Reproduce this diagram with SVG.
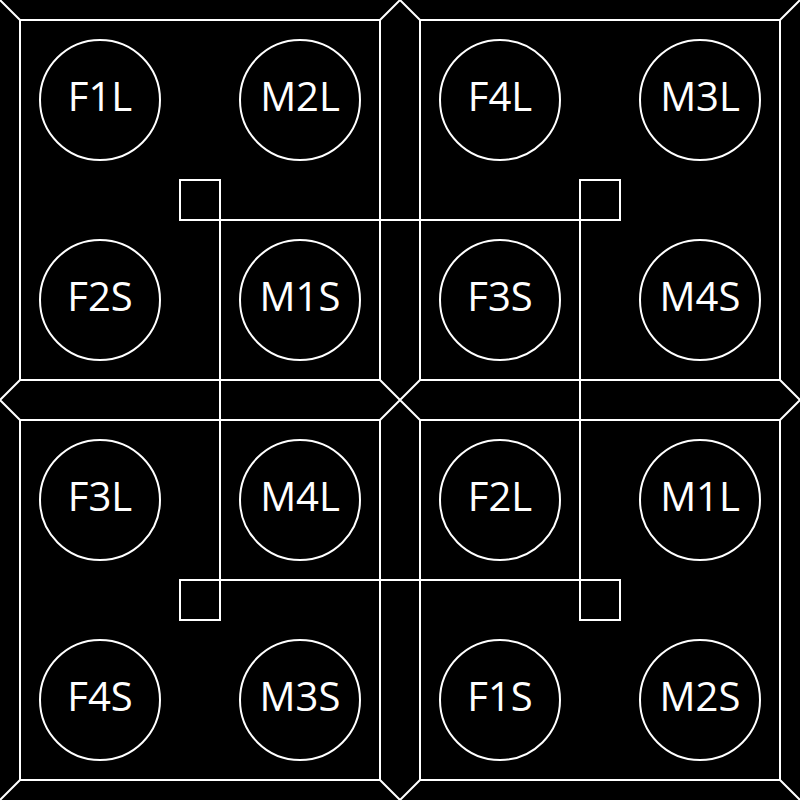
<svg xmlns="http://www.w3.org/2000/svg" width="800" height="800" viewBox="0 0 800 800">
<style>
.l{stroke:#fff;stroke-width:2;fill:none}
.c{stroke:#fff;stroke-width:2;fill:#000}
.t{fill:#fff;font-family:"Open Sans","Noto Sans",sans-serif;font-size:40px;text-anchor:middle}
</style>
<rect width="800" height="800" fill="#000"/>
<g id="frame" class="l">
<rect x="20" y="20" width="360" height="360"/>
<rect x="420" y="20" width="360" height="360"/>
<rect x="20" y="420" width="360" height="360"/>
<rect x="420" y="420" width="360" height="360"/>
<path d="M0,0L20,20M380,20L400,0L420,20M780,20L800,0M20,380L0,400L20,420M780,380L800,400L780,420M380,380L420,420M420,380L380,420M20,780L0,800M380,780L400,800L420,780M780,780L800,800"/>
</g>
<g id="connectors" class="l">
<rect x="220" y="220" width="360" height="360"/>
<rect x="180" y="180" width="40" height="40"/>
<rect x="580" y="180" width="40" height="40"/>
<rect x="180" y="580" width="40" height="40"/>
<rect x="580" y="580" width="40" height="40"/>
</g>
<g id="F1L"><circle class="c" cx="100" cy="100" r="60"/><text class="t" x="100" y="111">F1L</text></g>
<g id="M2L"><circle class="c" cx="300" cy="100" r="60"/><text class="t" x="300" y="111">M2L</text></g>
<g id="F4L"><circle class="c" cx="500" cy="100" r="60"/><text class="t" x="500" y="111">F4L</text></g>
<g id="M3L"><circle class="c" cx="700" cy="100" r="60"/><text class="t" x="700" y="111">M3L</text></g>
<g id="F2S"><circle class="c" cx="100" cy="300" r="60"/><text class="t" x="100" y="311">F2S</text></g>
<g id="M1S"><circle class="c" cx="300" cy="300" r="60"/><text class="t" x="300" y="311">M1S</text></g>
<g id="F3S"><circle class="c" cx="500" cy="300" r="60"/><text class="t" x="500" y="311">F3S</text></g>
<g id="M4S"><circle class="c" cx="700" cy="300" r="60"/><text class="t" x="700" y="311">M4S</text></g>
<g id="F3L"><circle class="c" cx="100" cy="500" r="60"/><text class="t" x="100" y="511">F3L</text></g>
<g id="M4L"><circle class="c" cx="300" cy="500" r="60"/><text class="t" x="300" y="511">M4L</text></g>
<g id="F2L"><circle class="c" cx="500" cy="500" r="60"/><text class="t" x="500" y="511">F2L</text></g>
<g id="M1L"><circle class="c" cx="700" cy="500" r="60"/><text class="t" x="700" y="511">M1L</text></g>
<g id="F4S"><circle class="c" cx="100" cy="700" r="60"/><text class="t" x="100" y="711">F4S</text></g>
<g id="M3S"><circle class="c" cx="300" cy="700" r="60"/><text class="t" x="300" y="711">M3S</text></g>
<g id="F1S"><circle class="c" cx="500" cy="700" r="60"/><text class="t" x="500" y="711">F1S</text></g>
<g id="M2S"><circle class="c" cx="700" cy="700" r="60"/><text class="t" x="700" y="711">M2S</text></g>
</svg>
